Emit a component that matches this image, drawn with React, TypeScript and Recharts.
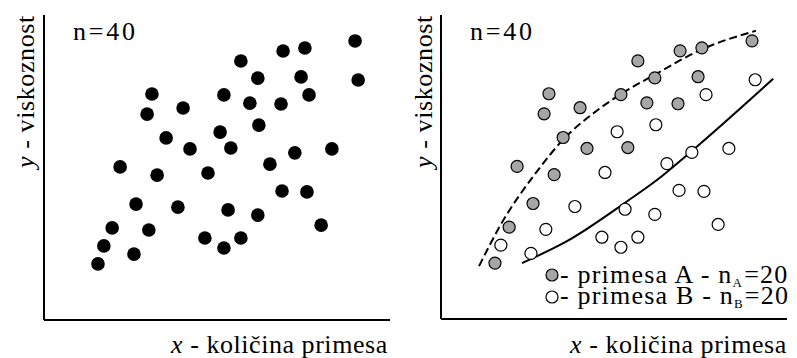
import React from "react";
import { ComposedChart, Line, Scatter, XAxis, YAxis } from "recharts";

type Pt = { x: number; y: number };

// primesa A (gray dots)
const seriesA: Pt[] = [
  { x: 89.9, y: 91.5 }, { x: 69.1, y: 88.2 }, { x: 75.4, y: 89.2 }, { x: 56.9, y: 84.9 },
  { x: 61.8, y: 79.3 }, { x: 74.3, y: 79.7 }, { x: 31.2, y: 74.1 }, { x: 52.0, y: 73.8 },
  { x: 59.5, y: 71.1 }, { x: 68.5, y: 70.8 }, { x: 29.8, y: 67.5 }, { x: 40.2, y: 69.5 },
  { x: 35.3, y: 59.7 }, { x: 42.2, y: 56.1 }, { x: 54.0, y: 56.4 }, { x: 22.0, y: 50.2 },
  { x: 32.7, y: 47.5 }, { x: 26.6, y: 38.0 }, { x: 19.7, y: 30.2 }, { x: 15.6, y: 18.4 },
];

// primesa B (open dots)
const seriesB: Pt[] = [
  { x: 90.8, y: 78.7 }, { x: 76.6, y: 73.8 }, { x: 62.1, y: 63.9 }, { x: 50.9, y: 61.6 },
  { x: 72.5, y: 54.8 }, { x: 83.2, y: 56.1 }, { x: 65.3, y: 51.1 }, { x: 47.4, y: 48.2 },
  { x: 68.8, y: 42.3 }, { x: 76.0, y: 42.0 }, { x: 38.7, y: 37.0 }, { x: 53.2, y: 36.1 },
  { x: 61.8, y: 34.4 }, { x: 80.1, y: 31.1 }, { x: 30.3, y: 29.5 }, { x: 46.5, y: 26.9 },
  { x: 56.9, y: 26.9 }, { x: 52.0, y: 23.6 }, { x: 17.3, y: 24.3 }, { x: 26.0, y: 21.6 },
];

const allPoints: Pt[] = [...seriesA, ...seriesB];

// trend curves
const curveA: Pt[] = [
  { x: 11.0, y: 17.4 }, { x: 17.0, y: 30.5 }, { x: 27.7, y: 48.5 }, { x: 35.3, y: 59.0 },
  { x: 45.0, y: 68.5 }, { x: 52.0, y: 74.0 }, { x: 62.0, y: 80.5 }, { x: 75.0, y: 88.5 },
  { x: 91.0, y: 94.8 },
];
const curveB: Pt[] = [
  { x: 23.4, y: 18.4 }, { x: 36.4, y: 25.6 }, { x: 53.5, y: 38.5 }, { x: 62.5, y: 45.8 },
  { x: 72.0, y: 54.8 }, { x: 96.0, y: 79.0 },
];

const W = 398;
const H = 358;
const margin = { top: 15, right: 8, bottom: 36, left: 42 };

const dot = (fill: string, r: number, stroke?: string) => (props: any) => (
  <circle cx={props.cx} cy={props.cy} r={r} fill={fill} stroke={stroke ?? "none"} strokeWidth={1.2} />
);

function Axes() {
  return [
    <XAxis key="x" type="number" dataKey="x" domain={[0, 100]} tick={false} tickLine={false} height={2}
      axisLine={{ stroke: "#000", strokeWidth: 2 }} />,
    <YAxis key="y" type="number" dataKey="y" domain={[0, 100]} tick={false} tickLine={false} width={2}
      axisLine={{ stroke: "#000", strokeWidth: 2 }} />,
  ];
}

function Labels() {
  return (
    <svg width={797} height={358} fontFamily="Liberation Serif" fontSize={26} fill="#000"
      style={{ position: "absolute", left: 0, top: 0, pointerEvents: "none" }}>
      {/* left panel */}
      <text x={73} y={40} letterSpacing={2.8}>n=40</text>
      <text x={34} y={168} transform="rotate(-90 34 168)" letterSpacing={0.6}>
        <tspan fontStyle="italic">y</tspan> - viskoznost
      </text>
      <text x={171} y={353} letterSpacing={0.55}>
        <tspan fontStyle="italic">x</tspan> - količina primesa
      </text>
      {/* right panel */}
      <text x={470} y={40} letterSpacing={2.8}>n=40</text>
      <text x={432} y={168} transform="rotate(-90 432 168)" letterSpacing={0.6}>
        <tspan fontStyle="italic">y</tspan> - viskoznost
      </text>
      <text x={570} y={353} letterSpacing={0.55}>
        <tspan fontStyle="italic">x</tspan> - količina primesa
      </text>
      {/* legend */}
      <circle cx={552} cy={275} r={6} fill="#a6a6a6" stroke="#000" strokeWidth={1.2} />
      <text x={560} y={283} letterSpacing={1.2}>
        - primesa A - n<tspan fontSize={13} dy={4}>A</tspan><tspan dy={-4} dx={1}>=20</tspan>
      </text>
      <circle cx={552} cy={297} r={6} fill="#fff" stroke="#000" strokeWidth={1.2} />
      <text x={560} y={304} letterSpacing={1.2}>
        - primesa B - n<tspan fontSize={13} dy={4}>B</tspan><tspan dy={-4} dx={1}>=20</tspan>
      </text>
    </svg>
  );
}

export default function App() {
  return (
    <div style={{ position: "relative", width: 797, height: 358, background: "#fff" }}>
      <style>{`body{margin:0}`}</style>
      <div style={{ position: "absolute", left: 0, top: 0 }}>
        <ComposedChart width={W} height={H} margin={margin}>
          {Axes()}
          <Scatter data={allPoints} shape={dot("#000", 6.8)} isAnimationActive={false} />
        </ComposedChart>
      </div>
      <div style={{ position: "absolute", left: 397, top: 0 }}>
        <ComposedChart width={W + 1} height={H} margin={{ ...margin, bottom: 37, right: 9 }}>
          {Axes()}
          <Line data={curveA} dataKey="y" type="monotone" stroke="#000" strokeWidth={2}
            strokeDasharray="8 4" dot={false} isAnimationActive={false} />
          <Line data={curveB} dataKey="y" type="monotone" stroke="#000" strokeWidth={2}
            dot={false} isAnimationActive={false} />
          <Scatter data={seriesA} shape={dot("#a6a6a6", 6, "#000")} isAnimationActive={false} />
          <Scatter data={seriesB} shape={dot("#fff", 6, "#000")} isAnimationActive={false} />
        </ComposedChart>
      </div>
      <Labels />
    </div>
  );
}
